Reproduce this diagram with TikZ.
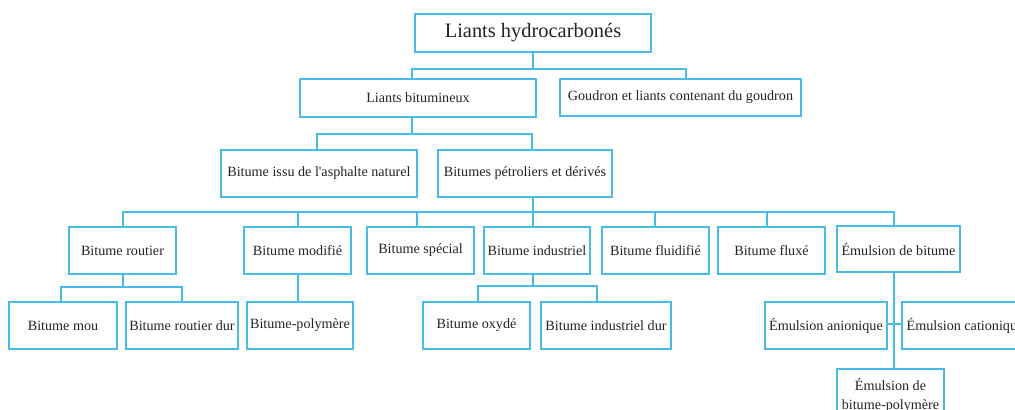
\documentclass[tikz,border=0pt]{standalone}
\usepackage{fontspec}
\setmainfont{Liberation Serif}
\definecolor{lc}{RGB}{72,187,230}
\definecolor{tc}{RGB}{35,35,35}
\begin{document}
\begin{tikzpicture}[x=1bp,y=-1bp,
  box/.style={draw=lc, line width=1.8bp, inner sep=0pt, text=tc,
    font=\fontsize{14.2}{19}\selectfont, align=center},
  link/.style={draw=lc, line width=1.8bp}]
\useasboundingbox (0,0) rectangle (1015,409);
\clip (0,0) rectangle (1015,409);
% level 0
\node[box, minimum width=236bp, minimum height=38bp, font=\fontsize{20.5}{24}\selectfont] (top) at (533,33) {Liants hydrocarbonés};
% level 1
\node[box, minimum width=236bp, minimum height=38bp] (lb) at (418,98) {Liants bitumineux};
\node[box, minimum width=241bp, minimum height=37bp] (gd) at (680.5,97.5) {Goudron et liants contenant du goudron};
% level 2
\node[box, minimum width=196bp, minimum height=47bp] (bi) at (319,173.5) {Bitume issu de l\textquotesingle asphalte naturel};
\node[box, minimum width=174bp, minimum height=47bp] (bp) at (525,173.5) {Bitumes pétroliers et dérivés};
% level 3
\node[box, minimum width=107bp, minimum height=47bp] (br) at (122.5,250.5) {Bitume routier};
\node[box, minimum width=107bp, minimum height=47bp] (bm) at (297.5,250.5) {Bitume modifié};
\node[box, minimum width=107bp, minimum height=47bp] (bs) at (420.5,250.5) {Bitume spécial};
\node[box, minimum width=106bp, minimum height=47bp] (bind) at (537,250.5) {Bitume industriel};
\node[box, minimum width=107bp, minimum height=47bp] (bfl) at (655.5,250.5) {Bitume fluidifié};
\node[box, minimum width=107bp, minimum height=47bp] (bfx) at (771.5,250.5) {Bitume fluxé};
\node[box, minimum width=123bp, minimum height=46bp] (eb) at (898.5,249) {Émulsion de bitume};
% level 4
\node[box, minimum width=108bp, minimum height=47bp] (mou) at (63,325.5) {Bitume mou};
\node[box, minimum width=112bp, minimum height=47bp] (rd) at (182,325.5) {Bitume routier dur};
\node[box, minimum width=106bp, minimum height=47bp] (poly) at (300,325.5) {Bitume-polymère};
\node[box, minimum width=107bp, minimum height=47bp] (ox) at (476.5,325.5) {Bitume oxydé};
\node[box, minimum width=130bp, minimum height=47bp] (idur) at (606,325.5) {Bitume industriel dur};
\node[box, minimum width=122bp, minimum height=47bp] (ea) at (826,325.5) {Émulsion anionique};
\node[box, minimum width=126bp, minimum height=47bp] (ec) at (965,325.5) {Émulsion cationique};
% level 5
\node[box, minimum width=107bp, minimum height=52bp] (ebp) at (890.5,395) {Émulsion de\\bitume-polymère};
% connectors
\draw[link] (top.south) -- +(0,16) coordinate (h1);
\draw[link] ([xshift=-6bp]lb.north) |- (h1) -| ([xshift=5.5bp]gd.north);
\draw[link] ([xshift=-6bp]lb.south) -- +(0,16) coordinate (h2);
\draw[link] ([xshift=-2bp]bi.north) |- (h2) -| ([xshift=7bp]bp.north);
\draw[link] ([xshift=8bp]bp.south) -- +(0,14) coordinate (h3);
\draw[link] ([xshift=0.5bp]br.north) |- ([xshift=-4.5bp]eb.north |- h3) -- ([xshift=-4.5bp]eb.north);
\draw[link] ([xshift=0.5bp]bm.north) -- ([xshift=0.5bp]bm.north |- h3);
\draw[link] ([xshift=-3.5bp]bs.north) -- ([xshift=-3.5bp]bs.north |- h3);
\draw[link] ([xshift=-4bp]bind.north) -- ([xshift=-4bp]bind.north |- h3);
\draw[link] ([xshift=-0.5bp]bfl.north) -- ([xshift=-0.5bp]bfl.north |- h3);
\draw[link] ([xshift=-4.5bp]bfx.north) -- ([xshift=-4.5bp]bfx.north |- h3);
\draw[link] ([xshift=0.5bp]br.south) -- +(0,12) coordinate (h4);
\draw[link] ([xshift=-2bp]mou.north) |- (h4) -| (rd.north);
\draw[link] ([xshift=0.5bp]bm.south) -- ([xshift=0.5bp]bm.south |- poly.north);
\draw[link] ([xshift=-4bp]bind.south) -- +(0,11) coordinate (h5);
\draw[link] ([xshift=1.5bp]ox.north) |- (h5) -| ([xshift=-9bp]idur.north);
\draw[link] ([xshift=-4.5bp]eb.south) -- ([xshift=-4.5bp]eb.south |- ebp.north);
\draw[link] ([yshift=1.5bp]ea.east) -- ([yshift=1.5bp]ec.west);
\end{tikzpicture}
\end{document}
